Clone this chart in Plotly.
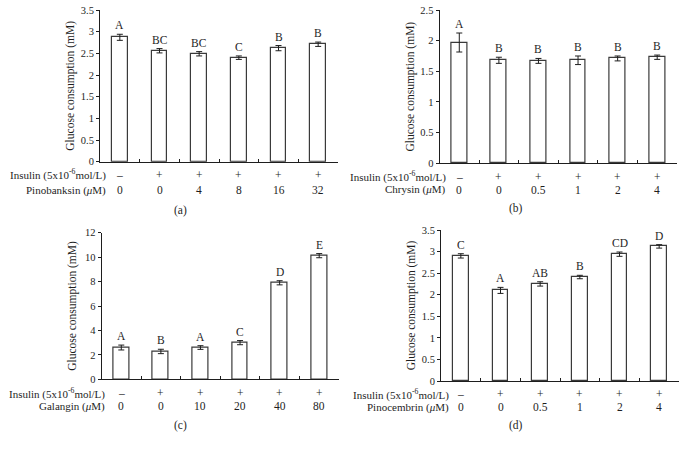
import plotly.graph_objects as go

W, H = 687, 449

# data
insulin_signs = ["–", "+", "+", "+", "+", "+"]

pinobanksin_conc = ["0", "0", "4", "8", "16", "32"]
pinobanksin_mean = [2.87, 2.56, 2.49, 2.40, 2.62, 2.71]
pinobanksin_err = [0.07, 0.05, 0.05, 0.04, 0.06, 0.05]
pinobanksin_grp = ["A", "BC", "BC", "C", "B", "B"]

chrysin_conc = ["0", "0", "0.5", "1", "2", "4"]
chrysin_mean = [1.97, 1.68, 1.67, 1.68, 1.71, 1.73]
chrysin_err = [0.155, 0.05, 0.04, 0.07, 0.04, 0.035]
chrysin_grp = ["A", "B", "B", "B", "B", "B"]

galangin_conc = ["0", "0", "10", "20", "40", "80"]
galangin_mean = [2.6, 2.28, 2.6, 3.0, 7.9, 10.12]
galangin_err = [0.2, 0.18, 0.15, 0.17, 0.17, 0.17]
galangin_grp = ["A", "B", "A", "C", "D", "E"]

pinocembrin_conc = ["0", "0", "0.5", "1", "2", "4"]
pinocembrin_mean = [2.90, 2.10, 2.25, 2.41, 2.94, 3.12]
pinocembrin_err = [0.05, 0.07, 0.05, 0.04, 0.05, 0.04]
pinocembrin_grp = ["C", "A", "AB", "B", "CD", "D"]

SERIF = "Liberation Serif, DejaVu Serif, serif"
INK = "#1e1e1e"

# box = x0, x1, ytop, ybottom in pixels
panels = [
    dict(name="Pinobanksin", conc=pinobanksin_conc, mean=pinobanksin_mean, err=pinobanksin_err,
         grp=pinobanksin_grp, yr=[0, 3.5], dt=0.5, box=(100, 338, 10, 161.7), lab_x=108,
         rows=(175, 190), tag="(a)", tag_pos=(180, 210), standoff=3),
    dict(name="Chrysin", conc=chrysin_conc, mean=chrysin_mean, err=chrysin_err,
         grp=chrysin_grp, yr=[0, 2.5], dt=0.5, box=(439.5, 677, 10, 163.3), lab_x=448,
         rows=(176.5, 189.5), tag="(b)", tag_pos=(516, 209), standoff=3),
    dict(name="Galangin", conc=galangin_conc, mean=galangin_mean, err=galangin_err,
         grp=galangin_grp, yr=[0, 12], dt=2, box=(101.5, 339, 232.7, 379.3), lab_x=107,
         rows=(393, 406), tag="(c)", tag_pos=(180, 425), standoff=5),
    dict(name="Pinocembrin", conc=pinocembrin_conc, mean=pinocembrin_mean, err=pinocembrin_err,
         grp=pinocembrin_grp, yr=[0, 3.5], dt=0.5, box=(441, 679, 230, 381), lab_x=451,
         rows=(394, 407), tag="(d)", tag_pos=(516, 425), standoff=3),
]


def px(x):
    return x / W


def py(y):
    return 1 - y / H


def label(x, y, text, xref="paper", xanchor="center", size=11.5):
    return dict(x=x, y=y, xref=xref, yref="paper", text=text, showarrow=False,
                xanchor=xanchor, yanchor="middle",
                font=dict(family=SERIF, size=size, color=INK))


fig = go.Figure()
annotations = []

for i, p in enumerate(panels):
    n = "" if i == 0 else str(i + 1)
    xa, ya = "x" + n, "y" + n
    x0, x1, yt, yb = p["box"]
    idx = list(range(len(p["mean"])))

    fig.add_trace(go.Bar(
        x=idx, y=p["mean"], width=0.4, xaxis=xa, yaxis=ya,
        marker=dict(color="white", line=dict(color="#3a3a3a", width=1.2)),
        error_y=dict(type="data", array=p["err"], color=INK, thickness=1, width=3),
        showlegend=False, hoverinfo="skip"))

    fig.layout["xaxis" + n] = dict(
        domain=[px(x0), px(x1)], anchor=ya, range=[-0.5, len(idx) - 0.5], automargin=False,
        showline=True, linecolor=INK, linewidth=1, showgrid=False, zeroline=False,
        tickvals=[k - 0.5 for k in range(len(idx) + 1)], ticks="inside", ticklen=3,
        tickcolor=INK, showticklabels=False, fixedrange=True)
    fig.layout["yaxis" + n] = dict(
        domain=[py(yb), py(yt)], anchor=xa, range=p["yr"], dtick=p["dt"], tick0=0,
        automargin=False,
        showline=True, linecolor=INK, linewidth=1, showgrid=False, zeroline=False,
        ticks="outside", ticklen=3, tickcolor=INK,
        tickfont=dict(family=SERIF, size=10.5, color=INK), fixedrange=True,
        title=dict(text="Glucose consumption (mM)", standoff=p["standoff"],
                   font=dict(family=SERIF, size=11.5, color=INK)))

    # significance letters
    for k in idx:
        annotations.append(dict(
            x=k, y=p["mean"][k] + p["err"][k], xref=xa, yref=ya, text=p["grp"][k],
            showarrow=False, xanchor="center", yanchor="bottom", yshift=1,
            font=dict(family=SERIF, size=11.5, color=INK)))

    # treatment table under the axis
    r1, r2 = p["rows"]
    for k in idx:
        annotations.append(label(k, py(r1), insulin_signs[k], xref=xa))
        annotations.append(label(k, py(r2), p["conc"][k], xref=xa))
    annotations.append(label(px(p["lab_x"]), py(r1), "Insulin (5x10<sup>-6</sup>mol/L)",
                             xanchor="right", size=11))
    annotations.append(label(px(p["lab_x"]), py(r2), p["name"] + " (<i>μ</i>M)",
                             xanchor="right", size=11))
    annotations.append(label(px(p["tag_pos"][0]), py(p["tag_pos"][1]), p["tag"]))

fig.update_layout(
    width=W, height=H, margin=dict(l=0, r=0, t=0, b=0, autoexpand=False),
    paper_bgcolor="white", plot_bgcolor="white",
    annotations=annotations, bargap=0)

fig.write_html("out.html", config={"displayModeBar": False},
               post_script="document.body.style.margin='0';")
